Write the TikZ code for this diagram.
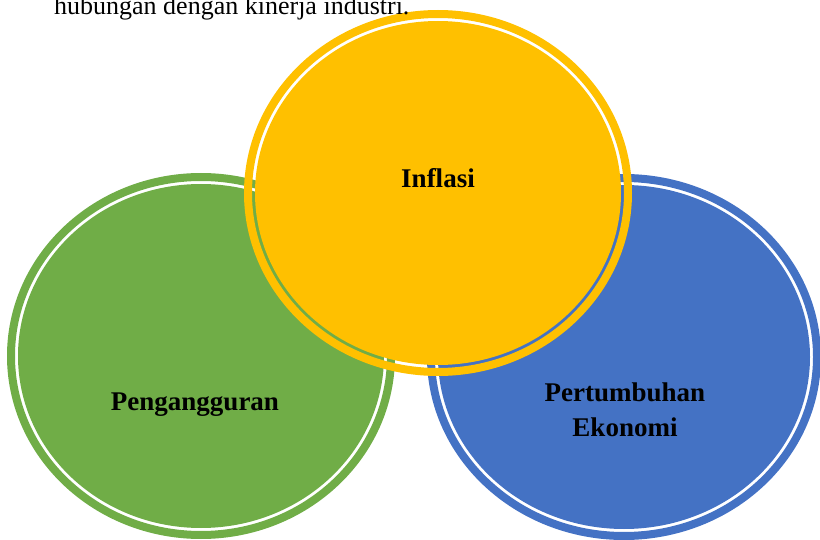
\documentclass[tikz,border=0pt]{standalone}
\usepackage{fontspec}
\setmainfont{Liberation Serif}
\tikzset{
    ring/.style = {even odd rule},
    label-text/.style = {font=\fontsize{27}{35}\selectfont\bfseries, align=center, inner sep=0pt},
}
\definecolor{hijau}{HTML}{70AD47}
\definecolor{biru}{HTML}{4472C4}
\definecolor{kuning}{HTML}{FFC000}

\begin{document}
\begin{tikzpicture}[x=1pt, y=-1pt]
\useasboundingbox (0,0) rectangle (820,540);
\clip (0,0) rectangle (820,540);
% green
\fill[hijau, ring] (201,356) ellipse (194 and 183) (201,356) ellipse (186 and 175);
\fill[hijau] (201,356) ellipse (183 and 172);
% blue
\fill[biru, ring] (624,357) ellipse (197 and 183) (624,357) ellipse (189 and 175);
\fill[biru] (624,357) ellipse (186 and 172);
% yellow
\fill[kuning, ring] (438,193) ellipse (194 and 183) (438,193) ellipse (186 and 175);
\fill[kuning] (438,193) ellipse (183 and 172);

\node[label-text] (inflasi) at (438,178) {Inflasi};
\node[label-text] (pengangguran) at (195,405) {Pengangguran};
\node[label-text] (pertumbuhan) at (625,410) {Pertumbuhan\\Ekonomi};
\node[anchor=base west, inner sep=0pt, font=\fontsize{26}{30}\selectfont] (keterangan) at (54,15) {hubungan dengan kinerja industri.};
\end{tikzpicture}
\end{document}
